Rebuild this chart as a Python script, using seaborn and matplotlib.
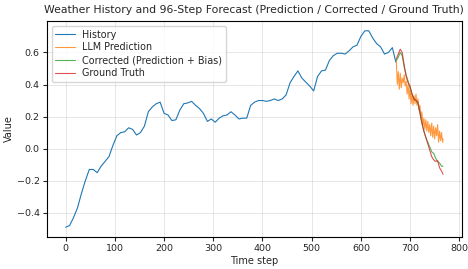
import numpy as np
import pandas as pd
import seaborn as sns
import matplotlib
matplotlib.use("Agg")
import matplotlib.pyplot as plt

hist_steps = list(range(0, 672, 8)) + [671]
hist_values = [
    -0.49, -0.48, -0.43, -0.37, -0.28, -0.20, -0.13, -0.13, -0.15, -0.11,
    -0.08, -0.05, 0.02, 0.08, 0.10, 0.105, 0.13, 0.12, 0.085, 0.10,
    0.14, 0.23, 0.26, 0.28, 0.29, 0.22, 0.21, 0.175, 0.18, 0.24,
    0.28, 0.285, 0.295, 0.27, 0.25, 0.22, 0.17, 0.185, 0.165, 0.19,
    0.205, 0.21, 0.23, 0.21, 0.185, 0.19, 0.19, 0.27, 0.29, 0.30,
    0.30, 0.295, 0.30, 0.31, 0.30, 0.31, 0.335, 0.41, 0.45, 0.485,
    0.44, 0.415, 0.39, 0.36, 0.45, 0.485, 0.49, 0.55, 0.58, 0.595,
    0.595, 0.59, 0.61, 0.635, 0.645, 0.70, 0.735, 0.735, 0.69, 0.655,
    0.635, 0.59, 0.60, 0.63, 0.54,
]

# 96-step forecast window
pred_steps = list(range(672, 768, 2)) + [767]
pred_values = [
    0.55, 0.40, 0.48, 0.37, 0.47, 0.38, 0.44, 0.41, 0.46, 0.39,
    0.42, 0.34, 0.40, 0.31, 0.38, 0.28, 0.34, 0.27, 0.33, 0.28,
    0.34, 0.27, 0.31, 0.24, 0.27, 0.19, 0.23, 0.14, 0.19, 0.12,
    0.18, 0.11, 0.17, 0.10, 0.15, 0.08, 0.16, 0.07, 0.14, 0.06,
    0.13, 0.08, 0.15, 0.04, 0.11, 0.05, 0.10, 0.04, 0.06,
]

fc_steps = list(range(672, 768, 4)) + [767]
corrected_values = [
    0.55, 0.57, 0.60, 0.58, 0.51, 0.46, 0.42, 0.38, 0.34, 0.31,
    0.30, 0.28, 0.23, 0.16, 0.11, 0.07, 0.04, 0.01, -0.02, -0.03,
    -0.06, -0.08, -0.09, -0.11, -0.11,
]
truth_values = [
    0.56, 0.59, 0.62, 0.60, 0.52, 0.45, 0.41, 0.39, 0.34, 0.31,
    0.30, 0.29, 0.22, 0.16, 0.11, 0.07, 0.03, -0.01, -0.05, -0.07,
    -0.08, -0.075, -0.12, -0.14, -0.16,
]

sns.set_style("ticks")
plt.rcParams["font.family"] = ["DejaVu Sans"]

fig = plt.figure(figsize=(4.68, 2.69), dpi=100)
ax = fig.add_axes([0.100, 0.119, 0.887, 0.803])

sns.lineplot(x=hist_steps, y=hist_values, ax=ax, color="tab:blue", lw=0.8, label="History")
sns.lineplot(x=pred_steps, y=pred_values, ax=ax, color="tab:orange", lw=0.8, alpha=0.8, label="LLM Prediction")
sns.lineplot(x=fc_steps, y=corrected_values, ax=ax, color="tab:green", lw=0.8, alpha=0.8,
             label="Corrected (Prediction + Bias)")
sns.lineplot(x=fc_steps, y=truth_values, ax=ax, color="tab:red", lw=0.8, alpha=0.8, label="Ground Truth")

ax.set_title("Weather History and 96-Step Forecast (Prediction / Corrected / Ground Truth)", fontsize=7.8)
ax.set_xlabel("Time step", fontsize=7, labelpad=2)
ax.set_ylabel("Value", fontsize=7, labelpad=2)
ax.tick_params(labelsize=6.8, length=3, pad=2)
ax.grid(True, alpha=0.35, color="#b0b0b0", lw=0.6)
for s in ax.spines.values():
    s.set_visible(True)
    s.set_color("black")
    s.set_linewidth(0.8)
ax.legend(loc="upper left", fontsize=6.9, handlelength=2.0, borderpad=0.4, labelspacing=0.3)

fig.savefig("out.png", dpi=100)
